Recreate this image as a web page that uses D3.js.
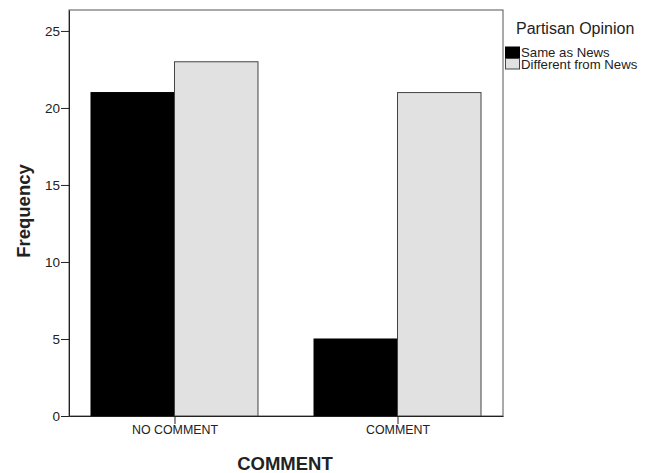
<!DOCTYPE html>
<html><head><meta charset="utf-8">
<script src="https://cdn.jsdelivr.net/npm/d3@7"></script>
<style>body{margin:0;background:#fff}svg{display:block;font-family:Arial,"Liberation Sans",sans-serif}</style>
</head><body><svg id="c" width="649" height="473"></svg>
<script>
const categories = ["NO COMMENT", "COMMENT"];
const seriesNames = ["Same as News", "Different from News"];
const sameAsNews = [21, 5];
const differentFromNews = [23, 21];
const yTicks = [0, 5, 10, 15, 20, 25];
const colors = ["#000000", "#e1e1e1"];

const FONT = "Arial,'Liberation Sans',sans-serif";
const svg = d3.select("#c");
const L = 69, R = 503, T = 10, B = 416;
const y = d3.scaleLinear().domain([0, 26.36]).range([B, T]);
const x = d3.scalePoint().domain(categories).range([L, R]).padding(0.473);
const bw = 83.5;
const sub = d3.scaleBand().domain(seriesNames).range([-bw, bw]);

// frame
svg.append("rect").attr("x", L).attr("y", T).attr("width", R - L).attr("height", B - T)
  .attr("fill", "none").attr("stroke", "#555").attr("stroke-width", 1);

const series = [sameAsNews, differentFromNews];
series.forEach((vals, si) => {
  svg.append("g").selectAll("rect").data(categories).join("rect")
    .attr("x", c => x(c) + sub(seriesNames[si]))
    .attr("y", (c, i) => y(vals[i]))
    .attr("width", sub.bandwidth())
    .attr("height", (c, i) => B - y(vals[i]))
    .attr("fill", colors[si])
    .attr("stroke", si === 0 ? "#000" : "#444").attr("stroke-width", 1);
});

// y axis
const ya = svg.append("g").attr("transform", `translate(${L},0)`)
  .call(d3.axisLeft(y).tickValues(yTicks).tickSize(8).tickSizeOuter(0).tickPadding(1));
ya.select(".domain").attr("stroke", "#222");
ya.selectAll(".tick line").attr("stroke", "#222");
ya.selectAll("text").attr("font-size", 13.5).attr("fill", "#222").attr("font-family", FONT);

// x axis
const xa = svg.append("g").attr("transform", `translate(0,${B})`)
  .call(d3.axisBottom(x).tickSize(8).tickSizeOuter(0).tickPadding(1));
xa.select(".domain").attr("stroke", "#222");
xa.selectAll(".tick line").attr("stroke", "#222");
xa.selectAll("text").attr("font-size", 12.4).attr("fill", "#222").attr("font-family", FONT);

// axis titles
svg.append("text").attr("x", 285).attr("y", 469.5).attr("text-anchor", "middle")
  .attr("font-size", 18.5).attr("font-weight", "bold").attr("fill", "#222").text("COMMENT");
svg.append("text").attr("transform", "translate(29.5,211) rotate(-90)").attr("text-anchor", "middle")
  .attr("font-size", 18.5).attr("font-weight", "bold").attr("fill", "#222").text("Frequency");

// legend
const lg = svg.append("g");
lg.append("text").attr("x", 516).attr("y", 34).attr("font-size", 16).attr("fill", "#222").text("Partisan Opinion");
seriesNames.forEach((n, i) => {
  lg.append("rect").attr("x", 505.5).attr("y", 47 + i * 11.5).attr("width", 14).attr("height", 10.5)
    .attr("fill", colors[i]).attr("stroke", i === 0 ? "#000" : "#444");
  lg.append("text").attr("x", 521).attr("y", 57.3 + i * 11.5).attr("font-size", 13.2).attr("fill", "#222").text(n);
});
</script></body></html>
